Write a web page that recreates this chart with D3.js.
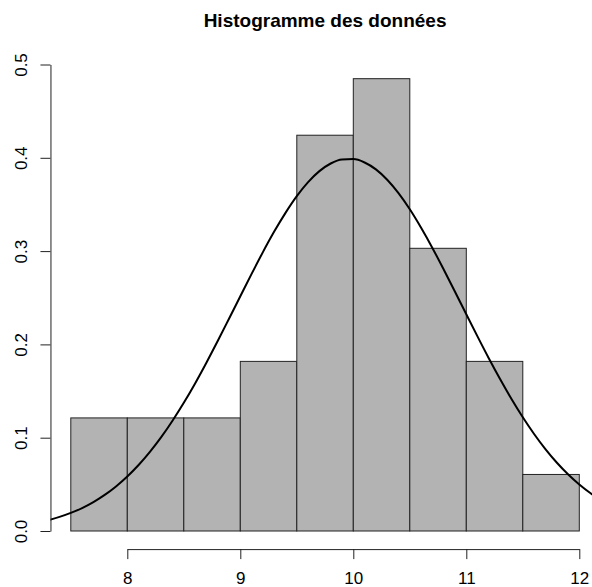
<!DOCTYPE html>
<html>
<head>
<meta charset="utf-8">
<script src="https://cdn.jsdelivr.net/npm/d3@7"></script>
<style>
  body { margin: 0; background: #fff; }
  svg { display: block; font-family: "Liberation Sans", Arial, sans-serif; }
</style>
</head>
<body>
<div id="chart"></div>
<script>
// histogram bins (breaks every 0.5) and densities
const binStarts = [7.5, 8, 8.5, 9, 9.5, 10, 10.5, 11, 11.5];
const binWidth = 0.5;
const densities = [0.1212, 0.1212, 0.1212, 0.1818, 0.4242, 0.4848, 0.3030, 0.1818, 0.0606];

// density curve
const curveX = [7.3, 7.4, 7.5, 7.6, 7.7, 7.8, 7.9, 8.0, 8.1, 8.2, 8.3, 8.4, 8.5, 8.6, 8.7, 8.8, 8.9,
  9.0, 9.1, 9.2, 9.3, 9.4, 9.5, 9.6, 9.7, 9.8, 9.9, 10.0, 10.1, 10.2, 10.3, 10.4, 10.5, 10.6,
  10.7, 10.8, 10.9, 11.0, 11.1, 11.2, 11.3, 11.4, 11.5, 11.6, 11.7, 11.8, 11.9, 12.0, 12.1, 12.2];
const curveY = [0.0116, 0.0151, 0.0194, 0.0246, 0.0310, 0.0387, 0.0478, 0.0584, 0.0707, 0.0848,
  0.1006, 0.1182, 0.1374, 0.1582, 0.1804, 0.2036, 0.2275, 0.2516, 0.2756, 0.2989, 0.3209,
  0.3410, 0.3589, 0.3739, 0.3857, 0.3939, 0.3982, 0.3986, 0.3950, 0.3876, 0.3765, 0.3621,
  0.3448, 0.3250, 0.3034, 0.2803, 0.2565, 0.2323, 0.2083, 0.1849, 0.1626, 0.1415, 0.1219,
  0.1040, 0.0878, 0.0734, 0.0608, 0.0498, 0.0404, 0.0325];

const xTicks = [8, 9, 10, 11, 12];
const yTicks = [0, 0.1, 0.2, 0.3, 0.4, 0.5];
const title = "Histogramme des données";

const width = 592, height = 587;

const x = d3.scaleLinear().domain([8, 12]).range([127.3, 579.3]);
const y = d3.scaleLinear().domain([0, 0.5]).range([531, 64.5]);

// plot region (R adds 4% either side)
const plotLeft = x(7.32), plotRight = x(12.18);
const plotTop = y(0.504), plotBottom = y(-0.0194);

const svg = d3.select("#chart").append("svg")
    .attr("width", width)
    .attr("height", height);

svg.append("text")
    .attr("x", (plotLeft + plotRight) / 2)
    .attr("y", 27)
    .attr("text-anchor", "middle")
    .style("font-size", "19px")
    .style("font-weight", "bold")
    .text(title);

// bars
svg.selectAll("rect.bar")
    .data(binStarts)
    .enter().append("rect")
    .attr("class", "bar")
    .attr("x", d => x(d))
    .attr("y", (d, i) => y(densities[i]))
    .attr("width", d => x(d + binWidth) - x(d))
    .attr("height", (d, i) => y(0) - y(densities[i]))
    .attr("fill", "#b3b3b3")
    .attr("stroke", "#222")
    .attr("stroke-width", 1);

// curve, clipped to the plot region
svg.append("clipPath").attr("id", "plotclip")
    .append("rect")
    .attr("x", plotLeft).attr("y", plotTop)
    .attr("width", plotRight - plotLeft).attr("height", plotBottom - plotTop);

const line = d3.line()
    .x(d => x(d[0]))
    .y(d => y(d[1]))
    .curve(d3.curveMonotoneX);

svg.append("path")
    .datum(curveX.map((v, i) => [v, curveY[i]]))
    .attr("clip-path", "url(#plotclip)")
    .attr("fill", "none")
    .attr("stroke", "#000")
    .attr("stroke-width", 2)
    .attr("d", line);

// x axis
const gx = svg.append("g")
    .attr("transform", `translate(0,${plotBottom})`)
    .call(d3.axisBottom(x).tickValues(xTicks).tickSize(10).tickSizeOuter(0).tickFormat(d3.format("d")));
gx.selectAll("text")
    .attr("y", 34.5)
    .attr("dy", null)
    .style("font-size", "17px")
    .attr("fill", "#000");

// y axis
const gy = svg.append("g")
    .attr("transform", `translate(${plotLeft},0)`)
    .call(d3.axisLeft(y).tickValues(yTicks).tickSize(10).tickSizeOuter(0).tickFormat(d3.format(".1f")));
gy.selectAll("text")
    .attr("transform", "rotate(-90)")
    .attr("x", 0)
    .attr("y", -23.5)
    .attr("dy", null)
    .attr("text-anchor", "middle")
    .style("font-size", "17px")
    .attr("fill", "#000");

svg.selectAll(".domain, .tick line").attr("stroke", "#222");
</script>
</body>
</html>
